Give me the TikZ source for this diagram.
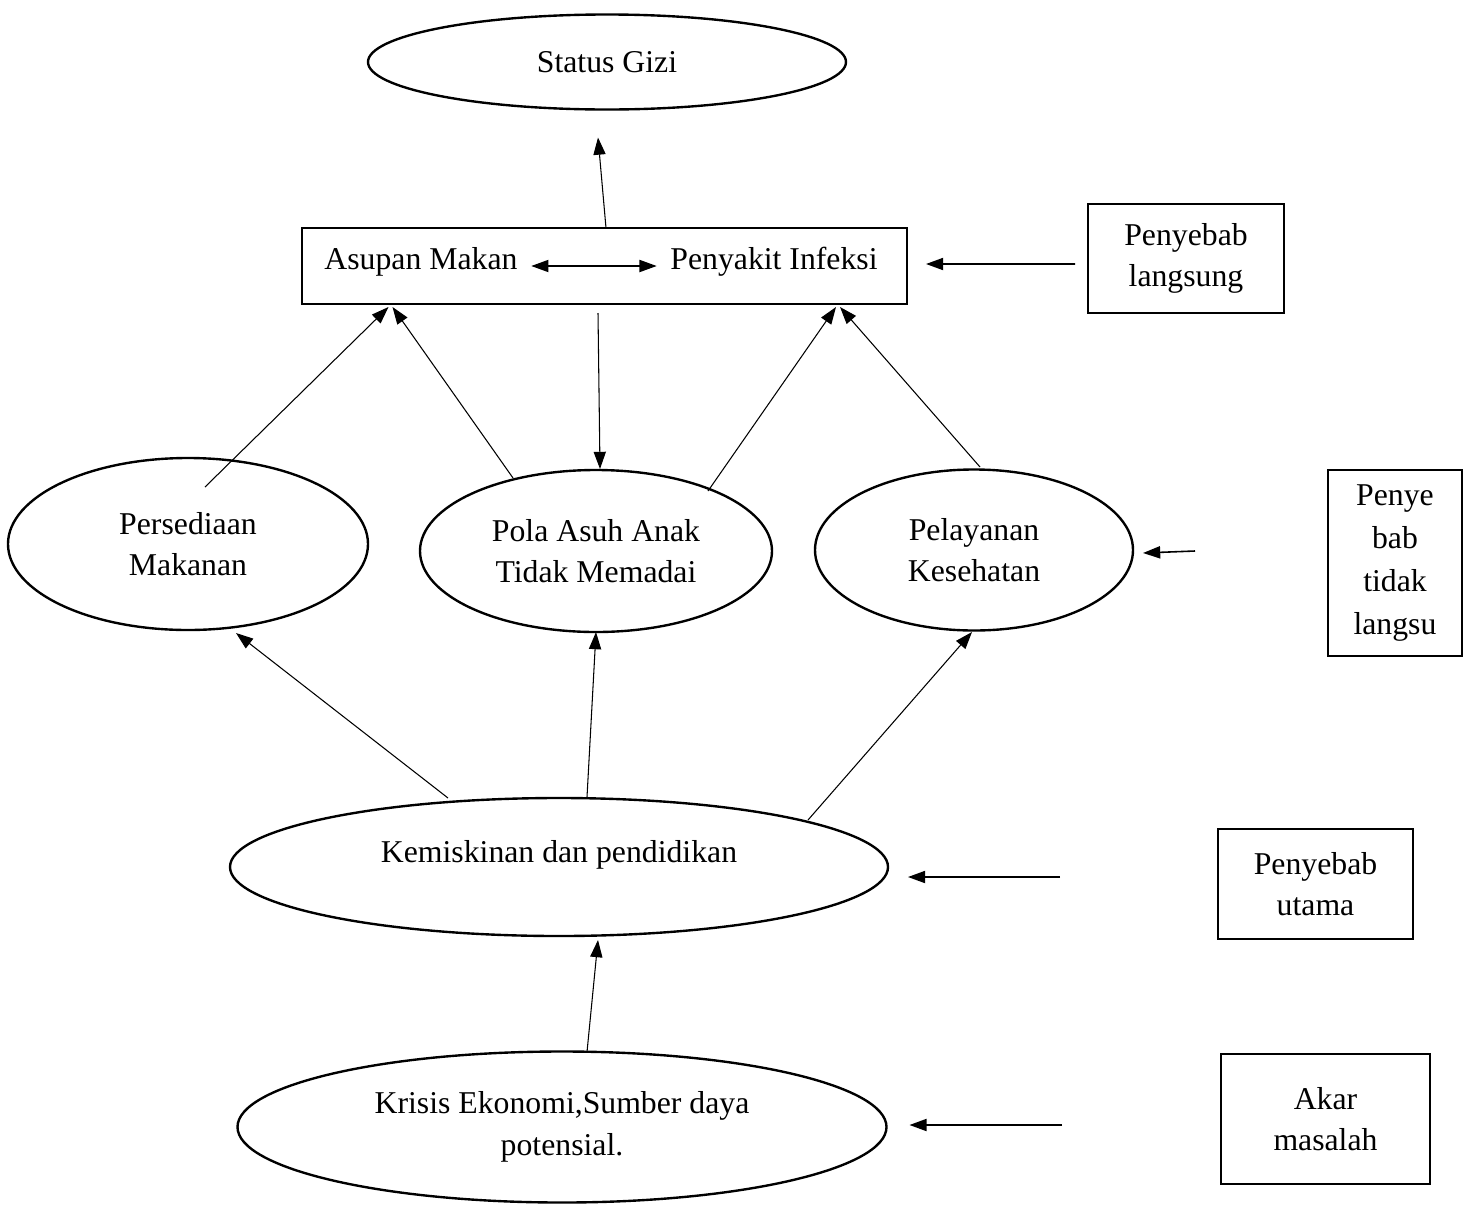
\documentclass[tikz,border=0pt]{standalone}
\usepackage{fontspec}
\setmainfont{Liberation Serif}
\usetikzlibrary{arrows.meta,calc,shapes.geometric}
\newcommand\pxu{0.378pt}
\begin{document}
\begin{tikzpicture}[x=0.378pt,y=-0.378pt,
    font=\fontsize{12}{15.7}\selectfont,
    oval/.style={draw,ellipse,line width=0.9pt,outer sep=0pt,inner sep=0pt,align=center},
    frame/.style={draw,rectangle,line width=0.8pt,outer sep=0pt,inner sep=0pt,align=center},
    conn/.style={-{Triangle[length=6.5pt,width=4.6pt]},line width=0.4pt},
    side/.style={-{Triangle[length=6.5pt,width=4.6pt]},line width=0.6pt}]
  \useasboundingbox (0,0) rectangle (1465,1204);
  % main chain
  \node[oval,minimum width=478*\pxu,minimum height=95*\pxu] (gizi) at (607,62) {Status Gizi};
  \node[frame,minimum width=605*\pxu,minimum height=76*\pxu] (box) at (604.5,266) {};
  \node[inner sep=2pt] (asupan) at (421,262) {Asupan Makan};
  \node[inner sep=2pt] (infeksi) at (774,262) {Penyakit Infeksi};
  \node[oval,minimum width=360*\pxu,minimum height=172*\pxu] (persed) at (188,544) {Persediaan\\Makanan};
  \node[oval,minimum width=352*\pxu,minimum height=162*\pxu] (pola) at (596,551) {Pola Asuh Anak\\Tidak Memadai};
  \node[oval,minimum width=318*\pxu,minimum height=161*\pxu] (layan) at (974,550) {Pelayanan\\Kesehatan};
  \node[oval,minimum width=658*\pxu,minimum height=138*\pxu,text depth=12pt] (kemis) at (559,867) {Kemiskinan dan pendidikan};
  \node[oval,minimum width=649*\pxu,minimum height=151*\pxu] (krisis) at (562,1127) {Krisis Ekonomi,Sumber daya\\potensial.};
  % side labels
  \node[frame,minimum width=196*\pxu,minimum height=109*\pxu] (langsung) at (1186,258.5) {Penyebab\\langsung};
  \node[frame,minimum width=134*\pxu,minimum height=186*\pxu,font=\fontsize{12}{16.2}\selectfont] (tidak) at (1395,563) {Penye\\bab\\tidak\\langsu};
  \node[frame,minimum width=195*\pxu,minimum height=110*\pxu] (utama) at (1315.5,884) {Penyebab\\utama};
  \node[frame,minimum width=209*\pxu,minimum height=130*\pxu] (akar) at (1325.5,1119) {Akar\\masalah};
  % connectors
  \draw[conn] ($(box.north)+(1.5,0)$) -- ($(gizi.south)+(-9,28)$);
  \draw[{Triangle[length=6.5pt,width=4.6pt]}-{Triangle[length=6.5pt,width=4.6pt]},line width=0.5pt,shorten <=3pt,shorten >=3pt] ($(asupan.east)+(0,4)$) -- ($(infeksi.west)+(0,4)$);
  \draw[conn] ($(persed.center)+(17,-57)$) -- ($(box.south)+(-216,3)$);
  \draw[conn] ($(pola.center)+(-83,-73)$) -- ($(box.south)+(-212,3)$);
  \draw[conn] ($(pola.center)+(112,-60)$) -- ($(box.south)+(231.5,3)$);
  \draw[conn] ($(layan.center)+(6,-83)$) -- ($(box.south)+(235.5,3)$);
  \draw[conn] ($(box.south)+(-6.5,9)$) -- ($(pola.center)+(4,-82)$);
  \draw[conn] ($(kemis.center)+(-111,-69)$) -- ($(persed.center)+(48,89)$);
  \draw[conn] ($(kemis.center)+(28,-70)$) -- ($(pola.center)+(0,81)$);
  \draw[conn] ($(kemis.center)+(249,-47)$) -- ($(layan.center)+(-2,82)$);
  \draw[conn] ($(krisis.center)+(25,-75)$) -- ($(kemis.center)+(39,73)$);
  \draw[side] ($(langsung.west)+(-13,5.5)$) -- ($(box.east)+(19,-2)$);
  \draw[side] ($(tidak.west)+(-133,-12)$) -- ($(layan.east)+(10,3)$);
  \draw[side] ($(utama.west)+(-158,-7)$) -- ($(kemis.east)+(20,10)$);
  \draw[side] ($(akar.west)+(-159,6)$) -- ($(krisis.east)+(23,-2)$);
\end{tikzpicture}
\end{document}
